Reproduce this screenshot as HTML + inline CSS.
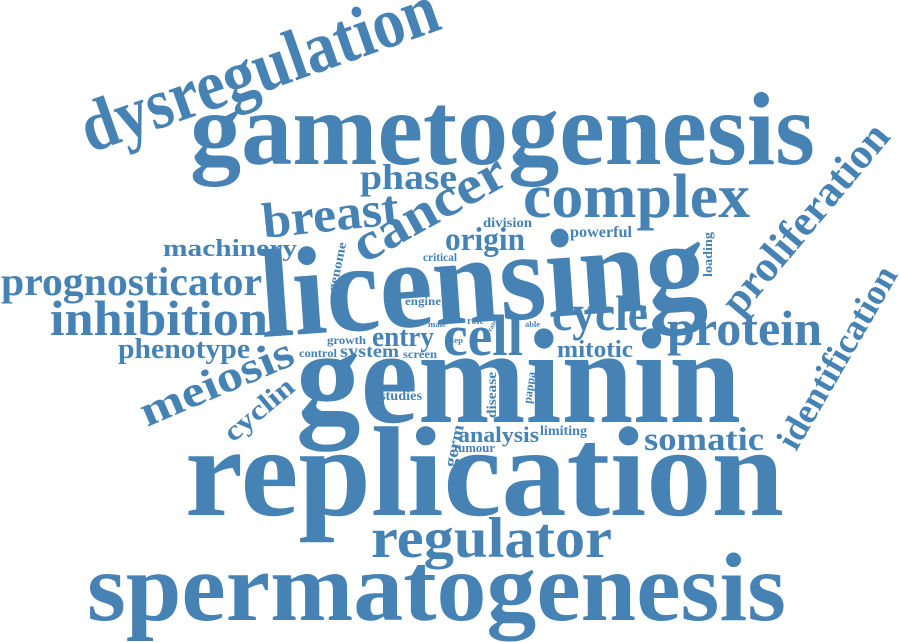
<!DOCTYPE html>
<html><head><meta charset="utf-8"><style>
html,body{margin:0;padding:0;background:#fff;}
svg{display:block;}
text{font-family:"Liberation Serif",serif;font-weight:bold;fill:#4682b4;}
</style></head><body>
<svg width="900" height="642" viewBox="0 0 900 642" xmlns="http://www.w3.org/2000/svg">
<g>
<text x="190" y="164" font-size="104" textLength="625" lengthAdjust="spacingAndGlyphs">gametogenesis</text>
<text x="90" y="153" font-size="72" textLength="375" lengthAdjust="spacingAndGlyphs" transform="rotate(-19.4 90 153)">dysregulation</text>
<text x="185" y="515" font-size="128" textLength="599" lengthAdjust="spacingAndGlyphs">replication</text>
<text x="296" y="422" font-size="135" textLength="445" lengthAdjust="spacingAndGlyphs">geminin</text>
<text x="262" y="337" font-size="126" textLength="447" lengthAdjust="spacingAndGlyphs" transform="rotate(-4 262 337)">licensing</text>
<text x="87" y="620" font-size="98" textLength="699" lengthAdjust="spacingAndGlyphs">spermatogenesis</text>
<text x="371" y="557" font-size="57" textLength="241" lengthAdjust="spacingAndGlyphs">regulator</text>
<text x="523" y="217" font-size="62" textLength="227" lengthAdjust="spacingAndGlyphs">complex</text>
<text x="364" y="264" font-size="54" textLength="168" lengthAdjust="spacingAndGlyphs" transform="rotate(-29 364 264)">cancer</text>
<text x="264" y="238" font-size="50" textLength="137" lengthAdjust="spacingAndGlyphs" transform="rotate(-6 264 238)">breast</text>
<text x="360" y="189" font-size="36" textLength="97" lengthAdjust="spacingAndGlyphs">phase</text>
<text x="740" y="318" font-size="43" textLength="236" lengthAdjust="spacingAndGlyphs" transform="rotate(-50 740 318)">proliferation</text>
<text x="796" y="452" font-size="36" textLength="205" lengthAdjust="spacingAndGlyphs" transform="rotate(-60 796 452)">identification</text>
<text x="667" y="345" font-size="50" textLength="155" lengthAdjust="spacingAndGlyphs">protein</text>
<text x="552" y="330" font-size="50" textLength="96" lengthAdjust="spacingAndGlyphs">cycle</text>
<text x="443" y="355" font-size="58" textLength="80" lengthAdjust="spacingAndGlyphs">cell</text>
<text x="1" y="295" font-size="40" textLength="261" lengthAdjust="spacingAndGlyphs">prognosticator</text>
<text x="50" y="335" font-size="50" textLength="218" lengthAdjust="spacingAndGlyphs">inhibition</text>
<text x="163" y="256" font-size="24" textLength="134" lengthAdjust="spacingAndGlyphs">machinery</text>
<text x="118" y="358" font-size="29" textLength="132" lengthAdjust="spacingAndGlyphs">phenotype</text>
<text x="147" y="427" font-size="44" textLength="163" lengthAdjust="spacingAndGlyphs" transform="rotate(-23 147 427)">meiosis</text>
<text x="233" y="443" font-size="28" textLength="83" lengthAdjust="spacingAndGlyphs" transform="rotate(-40 233 443)">cyclin</text>
<text x="644" y="450" font-size="33" textLength="120" lengthAdjust="spacingAndGlyphs">somatic</text>
<text x="445" y="250" font-size="33" textLength="80" lengthAdjust="spacingAndGlyphs">origin</text>
<text x="557" y="357" font-size="24" textLength="76" lengthAdjust="spacingAndGlyphs">mitotic</text>
<text x="372" y="346" font-size="28" textLength="62" lengthAdjust="spacingAndGlyphs">entry</text>
<text x="340" y="357" font-size="18" textLength="59" lengthAdjust="spacingAndGlyphs">system</text>
<text x="299" y="357" font-size="12" textLength="38" lengthAdjust="spacingAndGlyphs">control</text>
<text x="327" y="344" font-size="12" textLength="39" lengthAdjust="spacingAndGlyphs">growth</text>
<text x="403" y="358" font-size="12" textLength="34" lengthAdjust="spacingAndGlyphs">screen</text>
<text x="405" y="305" font-size="12" textLength="36" lengthAdjust="spacingAndGlyphs">engine</text>
<text x="423" y="261" font-size="12" textLength="34" lengthAdjust="spacingAndGlyphs">critical</text>
<text x="483" y="227" font-size="14" textLength="49" lengthAdjust="spacingAndGlyphs">division</text>
<text x="570" y="237" font-size="16" textLength="62" lengthAdjust="spacingAndGlyphs">powerful</text>
<text x="336" y="292" font-size="13" textLength="50" lengthAdjust="spacingAndGlyphs" transform="rotate(-78 336 292)">genome</text>
<text x="712" y="277" font-size="13" textLength="45" lengthAdjust="spacingAndGlyphs" transform="rotate(-90 712 277)">loading</text>
<text x="428" y="327" font-size="8" textLength="18" lengthAdjust="spacingAndGlyphs">male</text>
<text x="467" y="324" font-size="10" textLength="17" lengthAdjust="spacingAndGlyphs">role</text>
<text x="491" y="332" font-size="7" textLength="12" lengthAdjust="spacingAndGlyphs" transform="rotate(-60 491 332)">rate</text>
<text x="448" y="343" font-size="8" textLength="15" lengthAdjust="spacingAndGlyphs">step</text>
<text x="525" y="327" font-size="8" textLength="15" lengthAdjust="spacingAndGlyphs">able</text>
<text x="380" y="400" font-size="14" textLength="42" lengthAdjust="spacingAndGlyphs">studies</text>
<text x="496" y="418" font-size="14" textLength="46" lengthAdjust="spacingAndGlyphs" transform="rotate(-90 496 418)">disease</text>
<text x="531" y="404" font-size="12" textLength="32" lengthAdjust="spacingAndGlyphs" transform="rotate(-82 531 404)">pappa</text>
<text x="458" y="442" font-size="22" textLength="81" lengthAdjust="spacingAndGlyphs">analysis</text>
<text x="454" y="452" font-size="13" textLength="41" lengthAdjust="spacingAndGlyphs">tumour</text>
<text x="540" y="435" font-size="14" textLength="47" lengthAdjust="spacingAndGlyphs">limiting</text>
<text x="455" y="468" font-size="17" textLength="43" lengthAdjust="spacingAndGlyphs" transform="rotate(-78 455 468)">germ</text>
</g>
</svg>
</body></html>
